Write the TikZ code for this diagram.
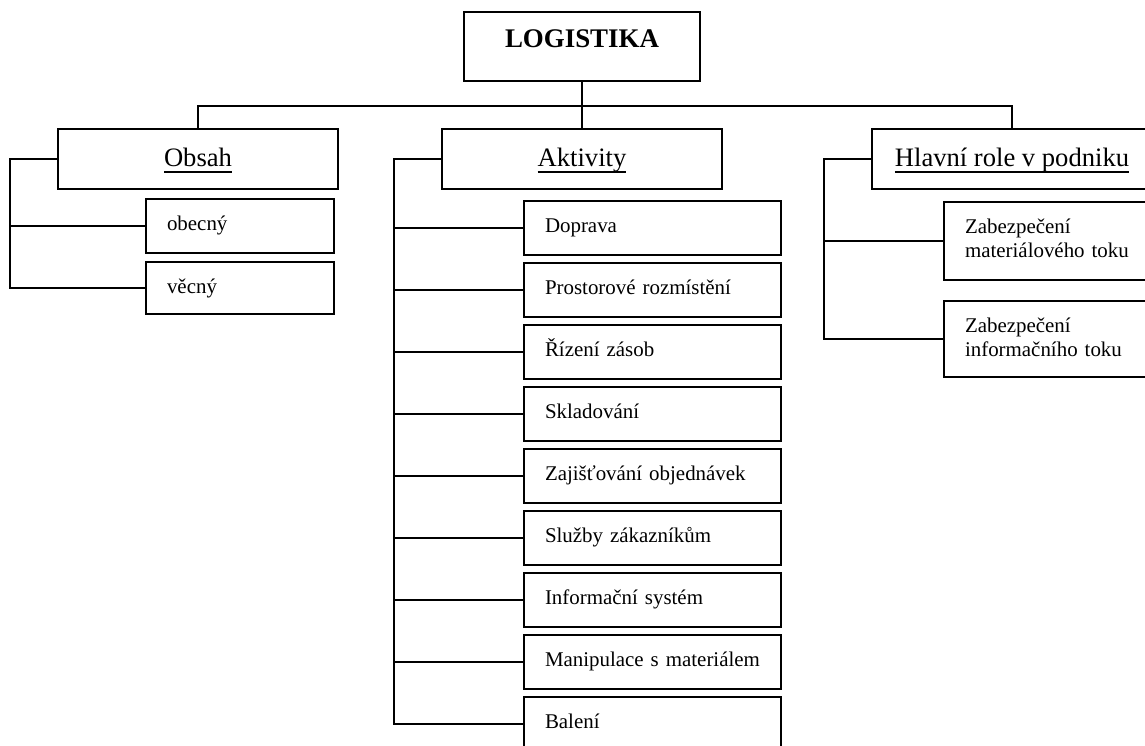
\documentclass[tikz,border=0pt]{standalone}
\usepackage{fontspec}
\setmainfont{Liberation Serif}
\usetikzlibrary{positioning}

\newcommand{\headul}[1]{\setbox0\hbox{#1}\rlap{\rule[-6.6pt]{\wd0}{1.3pt}}\box0}

\tikzset{
  box/.style={draw, inner sep=0pt, outer sep=0pt},
  head node/.style={box, minimum width=280bp, text height=37bp, text depth=23bp,
                    font=\fontsize{26.7}{32}\selectfont},
  leaf node/.style={box, inner xsep=21bp, align=left, text height=31bp, text depth=23bp,
                    font=\fontsize{21}{25}\selectfont}
}

\begin{document}
\begin{tikzpicture}[x=1bp, y=-1bp, line width=1.8bp]
        \useasboundingbox (0,0) rectangle (1145,746);
        \clip (0,0) rectangle (1145,746);

        % Define vertices
        \node[box, anchor=north west, minimum width=236bp, text height=36bp, text depth=33bp,
              font=\bfseries\fontsize{27}{32}\selectfont] (log) at (464,12) {LOGISTIKA};

        \node[head node, anchor=north west] (obs) at (58,129) {\headul{Obsah}};
        \node[head node, anchor=north west] (akt) at (442,129) {\headul{Aktivity}};
        \node[head node, anchor=north west] (hlr) at (872,129) {\headul{Hlavní role v podniku}};

        \node[leaf node, text width=146bp, anchor=north west] (obe) at (146,199) {obecný};
        \node[leaf node, text width=146bp, text depth=21bp, below=9bp of obe] (vec) {věcný};

        \foreach \t [count=\i] in {Doprava, Prostorové rozmístění, Řízení zásob, Skladování,
                Zajišťování objednávek, Služby zákazníkům, Informační systém,
                Manipulace s materiálem, Balení}
            \node[leaf node, text width=215bp, anchor=north west] (a\i) at (524,{201+62*(\i-1)}) {\mbox{\t}};

        \node[leaf node, text width=174bp, text depth=47bp, anchor=north west] (mat) at (944,202)
            {Zabezpečení\\materiálového toku};
        \node[leaf node, text width=174bp, text depth=45bp, below=21bp of mat] (inf)
            {Zabezpečení\\informačního toku};

        % Define edges
        \coordinate (bus) at (582,106);
        \draw (log.south) -- (log.south |- akt.north);
        \draw (obs.north) |- (bus) -| (hlr.north);

        \coordinate (obs bus) at (10,0);
        \draw (obs.west) -| (obs bus |- vec.west) -- (vec.west);
        \draw (obe.west) -- (obs bus |- obe.west);

        \coordinate (akt bus) at (394,0);
        \draw (akt.west) -| (akt bus |- a9.west) -- (a9.west);
        \foreach \i in {1,...,8}
            \draw (a\i.west) -- (akt bus |- a\i.west);

        \coordinate (hlr bus) at (824,0);
        \draw (hlr.west) -| (hlr bus |- inf.west) -- (inf.west);
        \draw (mat.west) -- (hlr bus |- mat.west);
\end{tikzpicture}
\end{document}
